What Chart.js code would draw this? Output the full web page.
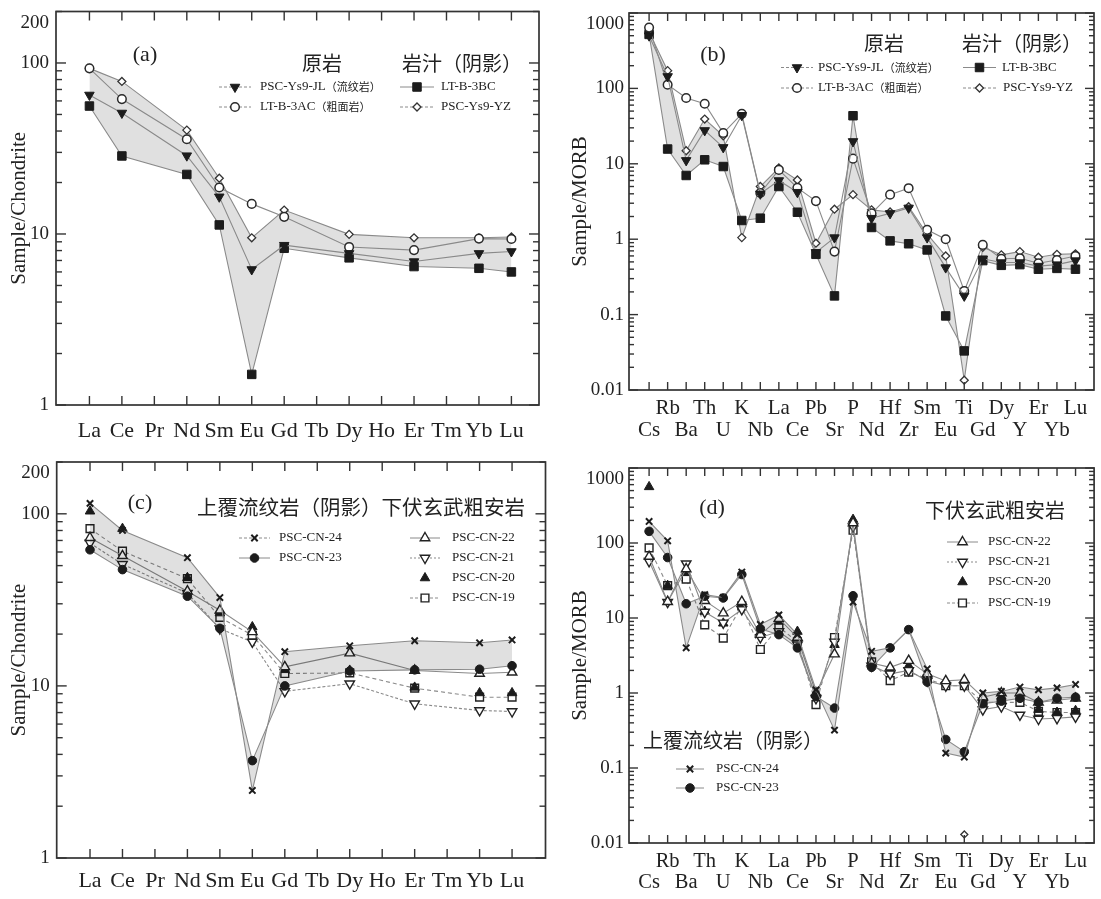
<!DOCTYPE html>
<html><head><meta charset="utf-8">
<script src="https://cdn.jsdelivr.net/npm/chart.js@4.4.1/dist/chart.umd.min.js"></script>
<style>
html,body{margin:0;padding:0;background:#fff;width:1101px;height:899px;overflow:hidden}
canvas{position:absolute;left:0;top:0}
</style></head><body>
<canvas id="ca" width="1101" height="899"></canvas>
<canvas id="cb" width="1101" height="899"></canvas>
<canvas id="cc" width="1101" height="899"></canvas>
<canvas id="cd" width="1101" height="899"></canvas>
<script>
// ---------- categories & tick labels ----------
const REE = ['La','Ce','Pr','Nd','Sm','Eu','Gd','Tb','Dy','Ho','Er','Tm','Yb','Lu'];
const SPIDER = ['Cs','Rb','Ba','Th','U','K','Nb','La','Ce','Pb','Sr','P','Nd','Hf','Zr','Sm','Eu','Ti','Gd','Dy','Y','Er','Yb','Lu'];
const yTicksChondrite = [1, 10, 100, 200];
const yTicksMORB = [0.01, 0.1, 1, 10, 100, 1000];

// ---------- (a) chondrite-normalised REE ----------
const a_names = ['PSC-Ys9-JL（流纹岩）', 'LT-B-3AC（粗面岩）', 'LT-B-3BC', 'PSC-Ys9-YZ'];
const a_JL  = [65, 51, null, 28.7, 16.5, 6.2, 8.6, null, 7.7, null, 6.9, null, 7.7, 7.9];
const a_3AC = [93, 61.5, null, 35.8, 18.7, 15.0, 12.6, null, 8.4, null, 8.05, null, 9.4, 9.35];
const a_3BC = [56, 28.6, null, 22.3, 11.3, 1.51, 8.25, null, 7.25, null, 6.45, null, 6.3, 6.0];
const a_YZ  = [93, 78, null, 40.5, 21.2, 9.5, 13.8, null, 9.95, null, 9.5, null, 9.5, 9.6];

// ---------- (b) MORB-normalised spider ----------
const b_JL  = [500, 144, 11.1, 27.7, 16.5, 44, 4.0, 6.0, 4.2, 0.67, 1.05, 19.8, 1.9, 2.2, 2.6, 1.05, 0.42, 0.177, 0.55, 0.49, 0.49, 0.44, 0.46, 0.52];
const b_3AC = [640, 112, 74.6, 62.6, 25.6, 46, 4.1, 8.3, 4.8, 3.2, 0.685, 11.7, 2.2, 3.9, 4.75, 1.33, 1.0, 0.206, 0.84, 0.55, 0.56, 0.48, 0.53, 0.60];
const b_3BC = [520, 15.7, 7.0, 11.3, 9.2, 1.77, 1.9, 5.0, 2.28, 0.63, 0.177, 43.4, 1.43, 0.95, 0.87, 0.72, 0.096, 0.033, 0.52, 0.45, 0.46, 0.40, 0.41, 0.40];
const b_YZ  = [560, 172, 14.9, 39.2, 23.5, 1.05, 5.0, 8.8, 6.1, 0.885, 2.5, 3.9, 2.45, 2.3, 2.7, 1.17, 0.6, 0.0135, 0.78, 0.62, 0.685, 0.577, 0.63, 0.64];

// ---------- (c) chondrite-normalised REE ----------
const cd_names = ['PSC-CN-24', 'PSC-CN-23', 'PSC-CN-22', 'PSC-CN-21', 'PSC-CN-20', 'PSC-CN-19'];
const c_CN24 = [115, 80, null, 55.6, 32.6, 2.47, 15.8, null, 17.1, null, 18.3, null, 17.8, 18.5];
const c_CN23 = [61.8, 47.4, null, 33.2, 21.6, 3.68, 10.0, null, 12.2, null, 12.4, null, 12.5, 13.1];
const c_CN22 = [72.6, 57, null, 35.5, 27.5, 20.6, 12.9, null, 15.5, null, 12.3, null, 11.8, 12.0];
const c_CN21 = [67.6, 50.9, null, 34.6, 21.5, 18.0, 9.3, null, 10.3, null, 7.87, null, 7.2, 7.1];
const c_CN20 = [103.5, 82, null, 42.5, 26.5, 22, 12.4, null, 12.3, null, 9.8, null, 9.1, 9.1];
const c_CN19 = [82, 60.7, null, 42, 25, 19.7, 11.8, null, 11.9, null, 9.7, null, 8.6, 8.6];

// ---------- (d) MORB-normalised spider ----------
const d_CN24 = [194, 107, 4.0, 20.5, 18.8, 41, 8.2, 11, 6.0, 1.1, 0.32, 16.3, 3.6, 4.0, 7.0, 2.1, 0.158, 0.14, 1.0, 1.05, 1.2, 1.1, 1.17, 1.3];
const d_CN23 = [143, 64, 15.5, 19.5, 18.5, 38, 7.2, 6.0, 4.0, 0.9, 0.63, 19.8, 2.2, 4.0, 7.0, 1.4, 0.24, 0.165, 0.72, 0.78, 0.85, 0.75, 0.85, 0.88];
const d_CN22 = [66, 16.5, 45, 17, 11.6, 16.5, 6.0, 9.8, 5.5, 1.0, 3.3, 185, 2.5, 2.2, 2.7, 1.8, 1.45, 1.5, 0.88, 1.0, 1.0, 0.75, 0.8, 0.85];
const d_CN21 = [57, 16.3, 53, 12, 8.6, 13, 5.5, 6.6, 4.4, 0.85, 4.8, 165, 2.3, 1.8, 2.0, 1.45, 1.25, 1.25, 0.6, 0.66, 0.51, 0.45, 0.46, 0.48];
const d_CN20 = [560, 27, 40, 12.2, 8.5, 15.5, 6.5, 9, 6.6, 0.95, 4.4, 205, 2.4, 2.0, 2.3, 1.7, 1.4, 1.45, 0.85, 0.9, 0.88, 0.6, 0.55, 0.58];
const d_CN19 = [86, 27, 33, 8.1, 5.4, 14.5, 3.8, 7.6, 4.8, 0.7, 5.5, 148, 2.6, 1.46, 1.9, 1.55, 1.25, 1.25, 0.75, 0.75, 0.75, 0.57, 0.55, 0.55];
const d_strayTi = [0.013];

// ---------- styling ----------
const W = 1101, H = 899, XH = 60;
const TXT = '#222';
const LINE = '#8a8a8a';
const SHADE = 'rgba(0,0,0,0.12)';
const SERIF = "'Liberation Serif', 'Times New Roman', serif";
const LAT = s => `${s}px 'Liberation Serif', 'Noto Sans CJK SC'`;
const CJK = s => `${s}px 'Noto Sans CJK SC', sans-serif`;
const DK = '#1c1c1c';
const ST = {
  triDownF: {ps:'triangle', rot:180, r:5.5, bg:DK, bc:DK, bw:1},
  circO:    {ps:'circle', rot:0, r:4.3, bg:'#fff', bc:'#2a2a2a', bw:1.5},
  sqF:      {ps:'rect', rot:0, r:6, bg:DK, bc:DK, bw:1},
  diaO:     {ps:'rectRot', rot:0, r:4, bg:'#fff', bc:'#333', bw:1.3},
  cross:    {ps:'crossRot', rot:0, r:4.5, bg:DK, bc:DK, bw:2},
  circF:    {ps:'circle', rot:0, r:4.3, bg:DK, bc:DK, bw:1},
  triUpO:   {ps:'triangle', rot:0, r:5.5, bg:'#fff', bc:'#222', bw:1.4},
  triDownO: {ps:'triangle', rot:180, r:5.5, bg:'#fff', bc:'#222', bw:1.4},
  triUpF:   {ps:'triangle', rot:0, r:5.5, bg:DK, bc:DK, bw:1},
  sqO:      {ps:'rect', rot:0, r:5.5, bg:'#fff', bc:'#222', bw:1.4}
};

function pts(vals, idx) {
  const out = [];
  vals.forEach((v, i) => { if (v != null) out.push({x: idx ? idx[i] : i, y: v}); });
  return out;
}
function ds(label, data, st, extra) {
  return Object.assign({
    label, data,
    borderColor: LINE, borderWidth: 1.1, tension: 0, fill: false,
    pointStyle: st.ps, pointRotation: st.rot, pointRadius: st.r,
    pointBackgroundColor: st.bg, pointBorderColor: st.bc, pointBorderWidth: st.bw,
    pointHoverRadius: st.r
  }, extra || {});
}

// ---------- drawing helpers for annotations ----------
function mixed(ctx, str, x, y, ls, cs) {
  const runs = str.match(/[\u3000-\u9fff\uff00-\uffef]+|[^\u3000-\u9fff\uff00-\uffef]+/g) || [];
  ctx.textAlign = 'left';
  for (const r of runs) {
    const isC = /[\u3000-\u9fff\uff00-\uffef]/.test(r);
    ctx.font = isC ? CJK(cs) : LAT(ls);
    ctx.fillText(r, x, y);
    x += ctx.measureText(r).width;
  }
}
function marker(ctx, st, x, y) {
  ctx.save();
  ctx.fillStyle = st.bg; ctx.strokeStyle = st.bc; ctx.lineWidth = st.bw; ctx.setLineDash([]);
  Chart.helpers.drawPoint(ctx, {pointStyle: st.ps, rotation: st.rot, radius: st.r, borderWidth: st.bw}, x, y);
  ctx.restore();
}
function legendItem(ctx, st, x0, x1, y, tx, text, dash) {
  if (dash !== null) {
    ctx.save(); ctx.strokeStyle = LINE; ctx.lineWidth = 1; ctx.setLineDash(dash);
    ctx.beginPath(); ctx.moveTo(x0, y); ctx.lineTo(x1, y); ctx.stroke(); ctx.restore();
  }
  marker(ctx, st, (x0 + x1) / 2, y);
  ctx.fillStyle = TXT; ctx.textBaseline = 'middle';
  mixed(ctx, text, tx, y, 13, 11);
}
function label(ctx, text, x, y, font, align) {
  ctx.fillStyle = TXT; ctx.font = font; ctx.textAlign = align || 'left'; ctx.textBaseline = 'middle';
  ctx.fillText(text, x, y);
}

function framePlugin(P) {
  return {
    id: 'frame_' + P.id,
    afterDraw(chart) {
      const {ctx, chartArea: ca, scales: {x, y}} = chart;
      ctx.save();
      ctx.strokeStyle = '#333'; ctx.lineWidth = 1.7;
      ctx.strokeRect(ca.left, ca.top, ca.right - ca.left, ca.bottom - ca.top);
      ctx.lineWidth = 1.4;
      const seg = (x0, y0, x1, y1) => { ctx.beginPath(); ctx.moveTo(x0, y0); ctx.lineTo(x1, y1); ctx.stroke(); };
      for (let i = 0; i < P.labels.length; i++) {
        const px = x.getPixelForValue(i);
        seg(px, ca.top, px, ca.top + P.xt);
        seg(px, ca.bottom, px, ca.bottom - P.xt);
      }
      const lo = Math.floor(Math.log10(y.min)), hi = Math.ceil(Math.log10(y.max));
      for (let d = lo; d <= hi; d++) {
        for (let k = 1; k <= 9; k++) {
          const v = k * Math.pow(10, d);
          if (v < y.min * 0.999 || v > y.max * 1.001) continue;
          const py = y.getPixelForValue(v);
          const len = k === 1 ? P.maj : P.minr;
          seg(ca.left, py, ca.left + len, py);
          seg(ca.right, py, ca.right - len, py);
        }
      }
      ctx.restore();
      ctx.save();
      P.draw(ctx);
      ctx.restore();
    }
  };
}

function makePanel(P) {
  return new Chart(document.getElementById(P.id), {
    type: 'line',
    data: {datasets: P.datasets},
    options: {
      responsive: false, animation: false, devicePixelRatio: 1,
      events: [],
      layout: {padding: {left: P.titleLeft, top: P.t, right: W - P.r, bottom: H - P.b - XH}},
      plugins: {legend: {display: false}, tooltip: {enabled: false}},
      scales: {
        x: {
          type: 'linear', min: P.xmin, max: P.xmax, bounds: 'data',
          grid: {display: false, drawTicks: false}, border: {display: false},
          afterBuildTicks: s => { s.ticks = P.labels.map((_, i) => ({value: i})); },
          afterFit: s => { s.height = XH; s.paddingLeft = 0; s.paddingRight = 0; },
          ticks: {
            autoSkip: false, maxRotation: 0, minRotation: 0, padding: P.xpad, color: TXT,
            font: {family: SERIF, size: P.xsize, lineHeight: P.xlh},
            callback: v => P.twoRow ? (v % 2 === 1 ? [P.labels[v], ''] : ['', P.labels[v]]) : P.labels[v]
          }
        },
        y: {
          type: 'logarithmic', min: P.ymin, max: P.ymax,
          grid: {display: false, drawTicks: false}, border: {display: false},
          afterBuildTicks: s => { s.ticks = P.yticks.map(v => ({value: v})); },
          afterFit: s => { s.width = P.l - P.titleLeft; s.paddingTop = 0; s.paddingBottom = 0; },
          ticks: {
            padding: P.ypad, color: TXT, font: {family: SERIF, size: 19, lineHeight: 1.2},
            callback: v => v === P.ymax ? ['', String(v)] : String(v)
          },
          title: {display: true, text: P.ytitle, color: TXT, padding: 0,
                  font: {family: SERIF, size: 21, lineHeight: 1.2}}
        }
      }
    },
    plugins: [framePlugin(P)]
  });
}

// ---------- panel (a) ----------
makePanel({
  id: 'ca', l: 56, r: 539, t: 11.5, b: 405, xmin: -1.03, xmax: 13.85,
  titleLeft: 7, ypad: 7, xpad: 13, xsize: 22, xlh: 1.2, twoRow: false,
  labels: REE, ymin: 1, ymax: 200, yticks: yTicksChondrite, ytitle: 'Sample/Chondrite',
  xt: 9, maj: 10, minr: 6,
  datasets: [
    ds(a_names[0], pts(a_JL), ST.triDownF),
    ds(a_names[1], pts(a_3AC), ST.circO),
    ds(a_names[2], pts(a_3BC), ST.sqF),
    ds(a_names[3], pts(a_YZ), ST.diaO, {fill: 2, backgroundColor: SHADE})
  ],
  draw(ctx) {
    label(ctx, '(a)', 145, 55, LAT(22), 'center');
    label(ctx, '原岩', 322, 63, CJK(20), 'center');
    label(ctx, '岩汁（阴影）', 402, 63, CJK(20), 'left');
    legendItem(ctx, ST.triDownF, 219, 251, 87, 260, a_names[0], [3, 2]);
    legendItem(ctx, ST.circO, 219, 251, 107, 260, a_names[1], [3, 2]);
    legendItem(ctx, ST.sqF, 400, 434, 87, 441, a_names[2], []);
    legendItem(ctx, ST.diaO, 400, 434, 107, 441, a_names[3], [3, 2]);
  }
});

// ---------- panel (b) ----------
makePanel({
  id: 'cb', l: 629, r: 1098, t: 13, b: 390, xmin: -1.084, xmax: 24.0,
  titleLeft: 568, ypad: 5, xpad: 7, xsize: 21, xlh: 1.05, twoRow: true,
  labels: SPIDER, ymin: 0.01, ymax: 1000, yticks: yTicksMORB, ytitle: 'Sample/MORB',
  xt: 8, maj: 9, minr: 5,
  datasets: [
    ds(a_names[0], pts(b_JL), ST.triDownF),
    ds(a_names[1], pts(b_3AC), ST.circO),
    ds(a_names[2], pts(b_3BC), ST.sqF),
    ds(a_names[3], pts(b_YZ), ST.diaO, {fill: 2, backgroundColor: SHADE})
  ],
  draw(ctx) {
    label(ctx, '(b)', 713, 55, LAT(22), 'center');
    label(ctx, '原岩', 884, 43, CJK(20), 'center');
    label(ctx, '岩汁（阴影）', 962, 43, CJK(20), 'left');
    legendItem(ctx, ST.triDownF, 781, 813, 67.5, 818, a_names[0], [3, 2]);
    legendItem(ctx, ST.circO, 781, 813, 88, 818, a_names[1], [3, 2]);
    legendItem(ctx, ST.sqF, 963, 996, 67.5, 1002, a_names[2], []);
    legendItem(ctx, ST.diaO, 963, 996, 88, 1003, a_names[3], [3, 2]);
  }
});

// ---------- panel (c) ----------
makePanel({
  id: 'cc', l: 56.7, r: 545.5, t: 462, b: 858, xmin: -1.026, xmax: 14.03,
  titleLeft: 7, ypad: 7, xpad: 10.5, xsize: 22, xlh: 1.2, twoRow: false,
  labels: REE, ymin: 1, ymax: 200, yticks: yTicksChondrite, ytitle: 'Sample/Chondrite',
  xt: 9, maj: 10, minr: 6,
  datasets: [
    ds(cd_names[0], pts(c_CN24), ST.cross),
    ds(cd_names[1], pts(c_CN23), ST.circF, {fill: 0, backgroundColor: SHADE}),
    ds(cd_names[2], pts(c_CN22), ST.triUpO),
    ds(cd_names[3], pts(c_CN21), ST.triDownO, {borderDash: [3, 2]}),
    ds(cd_names[4], pts(c_CN20), ST.triUpF, {showLine: false}),
    ds(cd_names[5], pts(c_CN19), ST.sqO, {borderDash: [4, 3]})
  ],
  draw(ctx) {
    label(ctx, '(c)', 140, 503, LAT(22), 'center');
    label(ctx, '上覆流纹岩（阴影）下伏玄武粗安岩', 197, 507, CJK(20.5), 'left');
    legendItem(ctx, ST.cross, 239, 270, 538, 279, cd_names[0], [3, 2]);
    legendItem(ctx, ST.circF, 239, 270, 558, 279, cd_names[1], []);
    legendItem(ctx, ST.triUpO, 410, 440, 538, 452, cd_names[2], []);
    legendItem(ctx, ST.triDownO, 410, 440, 558, 452, cd_names[3], [2, 2]);
    legendItem(ctx, ST.triUpF, 410, 440, 578, 452, cd_names[4], null);
    legendItem(ctx, ST.sqO, 410, 440, 598, 452, cd_names[5], [3, 2]);
  }
});

// ---------- panel (d) ----------
makePanel({
  id: 'cd', l: 629, r: 1098, t: 468, b: 843, xmin: -1.084, xmax: 24.0,
  titleLeft: 568, ypad: 5, xpad: 8, xsize: 20.5, xlh: 1.02, twoRow: true,
  labels: SPIDER, ymin: 0.01, ymax: 1000, yticks: yTicksMORB, ytitle: 'Sample/MORB',
  xt: 8, maj: 9, minr: 5,
  datasets: [
    ds(cd_names[0], pts(d_CN24), ST.cross),
    ds(cd_names[1], pts(d_CN23), ST.circF, {fill: 0, backgroundColor: SHADE}),
    ds(cd_names[2], pts(d_CN22), ST.triUpO),
    ds(cd_names[3], pts(d_CN21), ST.triDownO),
    ds(cd_names[4], pts(d_CN20), ST.triUpF, {showLine: false}),
    ds(cd_names[5], pts(d_CN19), ST.sqO, {borderDash: [4, 3]}),
    ds('', pts(d_strayTi, [SPIDER.indexOf('Ti')]), Object.assign({}, ST.diaO, {r: 3.5}), {showLine: false})
  ],
  draw(ctx) {
    label(ctx, '(d)', 712, 508, LAT(22), 'center');
    label(ctx, '下伏玄武粗安岩', 925, 510, CJK(20), 'left');
    legendItem(ctx, ST.triUpO, 947, 978, 542, 988, cd_names[2], []);
    legendItem(ctx, ST.triDownO, 947, 978, 562, 988, cd_names[3], [2, 2]);
    legendItem(ctx, ST.triUpF, 947, 978, 582, 988, cd_names[4], null);
    legendItem(ctx, ST.sqO, 947, 978, 603, 988, cd_names[5], [3, 2]);
    label(ctx, '上覆流纹岩（阴影）', 643, 740, CJK(20), 'left');
    legendItem(ctx, ST.cross, 676, 704, 769, 716, cd_names[0], []);
    legendItem(ctx, ST.circF, 676, 704, 788, 716, cd_names[1], []);
  }
});
</script>
</body></html>
